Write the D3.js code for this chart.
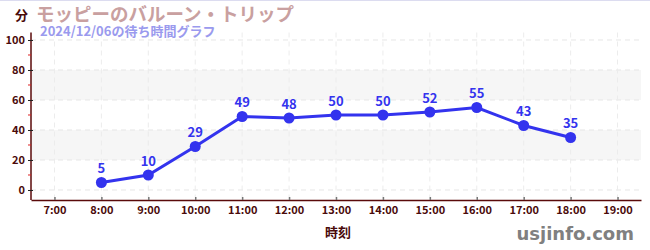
<!DOCTYPE html>
<html><head><meta charset="utf-8">
<script src="https://cdn.jsdelivr.net/npm/d3@7"></script>
<style>body{margin:0;background:#fff}svg{display:block}</style>
</head><body>
<script>
const hours = [8, 9, 10, 11, 12, 13, 14, 15, 16, 17, 18];
const waits = [5, 10, 29, 49, 48, 50, 50, 52, 55, 43, 35];
const xTicks = [7, 8, 9, 10, 11, 12, 13, 14, 15, 16, 17, 18, 19];
const yTicks = [0, 20, 40, 60, 80, 100];
const yMinor = [10, 30, 50, 70, 90];
const bands = [[20, 40], [60, 80]];
const title = "モッピーのバルーン・トリップ";
const subtitle = "2024/12/06の待ち時間グラフ";

const W = 650, H = 250;
const svg = d3.select("body").append("svg").attr("width", W).attr("height", H);
const font = "'Noto Sans CJK JP','Noto Sans',sans-serif";
const x = d3.scaleLinear().domain([6.5, 19.5]).range([31, 641]);
const y = d3.scaleLinear().domain([-6.67, 105]).range([200, 32.5]);

svg.append("rect").attr("x",0).attr("y",0).attr("width",W).attr("height",1).attr("fill","#dcdcf0");

svg.selectAll(".band").data(bands).enter().append("rect")
  .attr("x", x(6.5)).attr("width", x(19.5)-x(6.5))
  .attr("y", d => y(d[1])).attr("height", d => y(d[0]) - y(d[1]))
  .attr("fill", "#f6f6f6");

// grid
svg.selectAll(".hg").data(yTicks).enter().append("line")
  .attr("x1", x(6.5)).attr("x2", x(19.5)).attr("y1", d => y(d)).attr("y2", d => y(d))
  .attr("stroke", "#e6e6e6").attr("stroke-dasharray", "5,4");
svg.selectAll(".vg").data(xTicks).enter().append("line")
  .attr("x1", d => x(d)).attr("x2", d => x(d)).attr("y1", y(105)).attr("y2", y(-6.67))
  .attr("stroke", "#ececec").attr("stroke-dasharray", "5,4");

// y axis
const yAxis = svg.append("g").attr("transform", `translate(${x(6.5)},0)`)
  .call(d3.axisLeft(y).tickValues(yTicks).tickSize(3).tickPadding(3));
yAxis.select(".domain").attr("stroke", "#5a0a0a").attr("stroke-width", 1.5).attr("d", `M0,${y(105)}V${y(-6.67)}`);
yAxis.selectAll(".tick line").attr("stroke", "#222").attr("x2", -3).attr("x1", 2);
yAxis.selectAll(".tick text").attr("fill", "#4a0a0a").style("font", `bold 11px ${font}`);
svg.selectAll(".ym").data(yMinor).enter().append("line")
  .attr("x1", x(6.5)-3).attr("x2", x(6.5)).attr("y1", d => y(d)).attr("y2", d => y(d))
  .attr("stroke", "#dd2222");

// x axis
const xAxis = svg.append("g").attr("transform", `translate(0,${y(-6.67)})`)
  .call(d3.axisBottom(x).tickValues(xTicks).tickFormat(d => d + ":00").tickSize(0).tickPadding(6));
xAxis.select(".domain").attr("stroke", "#5a0a0a").attr("stroke-width", 1.5);
xAxis.selectAll(".tick line").attr("stroke", "#777").attr("stroke-width", 1.5).attr("y1", -3).attr("y2", 0);
xAxis.selectAll(".tick text").attr("fill", "#4a0a0a").style("font", `bold 11px ${font}`);

// line
const pts = hours.map((h, i) => [h, waits[i]]);
svg.append("path").datum(pts)
  .attr("d", d3.line().x(d => x(d[0])).y(d => y(d[1])))
  .attr("fill", "none").attr("stroke", "#3333ee").attr("stroke-width", 3);
svg.selectAll(".pt").data(pts).enter().append("circle")
  .attr("cx", d => x(d[0])).attr("cy", d => y(d[1])).attr("r", 5.5).attr("fill", "#3333ee");
svg.selectAll(".lb").data(pts).enter().append("text")
  .attr("x", d => x(d[0])).attr("y", d => y(d[1]) - 9)
  .attr("text-anchor", "middle").attr("fill", "#3333ee")
  .style("font", `bold 13px ${font}`).text(d => d[1]);

// titles
svg.append("text").attr("x", 15).attr("y", 20).attr("fill", "#4a0a0a")
  .style("font", `bold 13px ${font}`).text("分");
svg.append("text").attr("x", 36).attr("y", 21).attr("fill", "#c9a0a0")
  .style("font", `bold 18.5px ${font}`).text(title);
svg.append("text").attr("x", 40).attr("y", 36).attr("fill", "#9a9aee")
  .style("font", `bold 13px ${font}`).text(subtitle);
svg.append("text").attr("x", 338).attr("y", 237).attr("text-anchor", "middle").attr("fill", "#4a0a0a")
  .style("font", `bold 13px ${font}`).text("時刻");
svg.append("text").attr("x", 634).attr("y", 240).attr("text-anchor", "end").attr("fill", "#808080")
  .style("font", `bold 18px 'DejaVu Sans',sans-serif`).text("usjinfo.com");
</script>
</body></html>
